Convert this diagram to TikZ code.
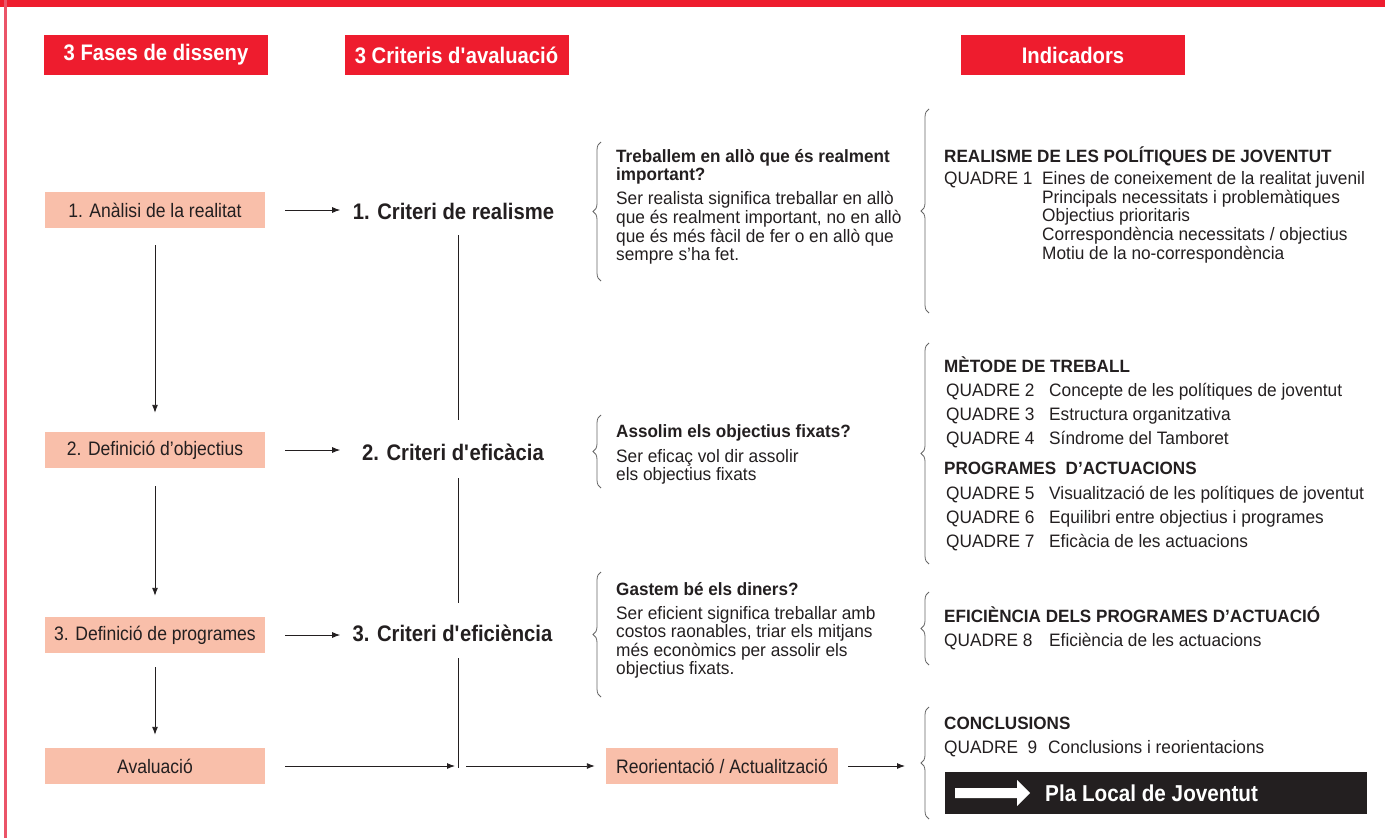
\documentclass[tikz,border=0pt]{standalone}
\usepackage{fontspec}
\setmainfont{Liberation Sans}[FakeStretch=0.96]
\newfontfamily\condf{Liberation Sans}[FakeStretch=0.9]
\usetikzlibrary{decorations.pathreplacing,arrows.meta,calc}
\definecolor{hdred}{HTML}{EE1C2E}
\definecolor{salmon}{HTML}{F9BFAA}
\definecolor{framered}{HTML}{EB5468}
\definecolor{ink}{HTML}{231F20}
\definecolor{bracegray}{HTML}{666666}
\begin{document}
\begin{tikzpicture}[x=1pt,y=-1pt,
  hdr/.style={fill=hdred,text=white,minimum width=224pt,minimum height=40pt,inner sep=0pt,font=\condf\bfseries\fontsize{22.5}{26}\selectfont},
  phase/.style={fill=salmon,text=ink,minimum width=220pt,minimum height=36pt,inner sep=0pt,font=\condf\fontsize{19.5}{22}\selectfont},
  crit/.style={anchor=base,inner sep=0pt,text=ink,font=\condf\bfseries\fontsize{22.5}{26}\selectfont},
  body/.style={anchor=base west,inner sep=0pt,text=ink,font=\fontsize{18}{20}\selectfont},
  bhead/.style={anchor=base west,inner sep=0pt,text=ink,font=\bfseries\fontsize{17.8}{20}\selectfont},
  arr/.style={draw=ink,line width=0.9pt,-{Latex[length=8pt,width=6pt]}},
  plain/.style={draw=ink,line width=0.9pt},
  lbrace/.style={draw=bracegray,line width=0.8pt,decorate,decoration={brace,amplitude=8pt,aspect=0.5}}
]
\useasboundingbox (0,0) rectangle (1385,838);
% frame
\fill[hdred] (0,0) rectangle (1385,7);
\fill[framered] (4,0) rectangle (6.5,838);

% headers
\node[hdr] (h1) at (156,55) {3 Fases de disseny};
\node[hdr] (h2) at (456.5,55) {3 Criteris d\textquotesingle avaluació};
\node[hdr] (h3) at (1073,55) {Indicadors};

% phases
\node[phase] (b1) at (155,210) {1. Anàlisi de la realitat};
\node[phase] (b2) at (155,450) {2. Definició d’objectius};
\node[phase] (b3) at (155,635) {3. Definició de programes};
\node[phase] (b4) at (155,766) {Avaluació};
\node[phase,minimum width=232pt] (reo) at (722,766) {Reorientació / Actualització};

% criteria
\node[crit] (c1) at (453.5,219) {1. Criteri de realisme};
\node[crit] (c2) at (453,460) {2. Criteri d\textquotesingle eficàcia};
\node[crit] (c3) at (452.5,641) {3. Criteri d\textquotesingle eficiència};

% horizontal arrows
\draw[arr,shorten <=20pt] (b1.east) -- ++(75,0);
\draw[arr,shorten <=20pt] (b2.east) -- ++(75,0);
\draw[arr,shorten <=20pt] (b3.east) -- ++(75,0);
% vertical arrows
\draw[arr,shorten <=17pt,shorten >=19pt] (b1.south) -- (b2.north);
\draw[arr,shorten <=18pt,shorten >=21pt] (b2.south) -- (b3.north);
\draw[arr,shorten <=14pt,shorten >=13pt] (b3.south) -- (b4.north);

% centre line
\coordinate (v1a) at (458,235);
\coordinate (v1b) at (458,420);
\coordinate (v2a) at (458,478);
\coordinate (v2b) at (458,603);
\coordinate (v3a) at (458,658);
\coordinate (jn) at (458,768);
\draw[plain] (v1a) -- (v1b);
\draw[plain] (v2a) -- (v2b);
\draw[plain] (v3a) -- (jn);
\draw[arr,shorten <=20pt,shorten >=3pt] (b4.east) -- (b4.east -| jn);
\draw[arr,shorten <=8pt,shorten >=11pt] (b4.east -| jn) -- (reo.west);
\coordinate (br7tip) at (915,766);
\draw[arr,shorten <=10pt,shorten >=10pt] (reo.east) -- (br7tip);

% braces (middle column)
\draw[lbrace] (601,281) -- (601,142);
\draw[lbrace] (601,488) -- (601,415);
\draw[lbrace] (601,697) -- (601,572);
% braces (right column)
\draw[lbrace] (929,313) -- (929,109);
\draw[lbrace] (929,564) -- (929,343);
\draw[lbrace] (929,665) -- (929,592);
\draw[lbrace] (929,819) -- (929,707);

% paragraph 1
\node[bhead] (p1a) at (616,162) {Treballem en allò que és realment};
\node[bhead] (p1b) at (616,180.5) {important?};
\node[body] (p1c) at (616,204) {Ser realista significa treballar en allò};
\node[body] (p1d) at (616,223) {que és realment important, no en allò};
\node[body] (p1e) at (616,242) {que és més fàcil de fer o en allò que};
\node[body] (p1f) at (616,260) {sempre s’ha fet.};
% paragraph 2
\node[bhead] (p2a) at (616,437) {Assolim els objectius fixats?};
\node[body] (p2b) at (616,462) {Ser eficaç vol dir assolir};
\node[body] (p2c) at (616,480) {els objectius fixats};
% paragraph 3
\node[bhead] (p3a) at (616,595) {Gastem bé els diners?};
\node[body] (p3b) at (616,619) {Ser eficient significa treballar amb};
\node[body] (p3c) at (616,637) {costos raonables, triar els mitjans};
\node[body] (p3d) at (616,656) {més econòmics per assolir els};
\node[body] (p3e) at (616,674) {objectius fixats.};

% indicators 1
\node[bhead] (r1) at (944,162) {REALISME DE LES POLÍTIQUES DE JOVENTUT};
\node[body] (q1) at (944,184) {QUADRE 1};
\node[body] (q1a) at (1042,184) {Eines de coneixement de la realitat juvenil};
\node[body] (q1b) at (1042,203) {Principals necessitats i problemàtiques};
\node[body] (q1c) at (1042,221) {Objectius prioritaris};
\node[body] (q1d) at (1042,240) {Correspondència necessitats / objectius};
\node[body] (q1e) at (1042,259) {Motiu de la no-correspondència};

% indicators 2
\node[bhead] (r2) at (944,372) {MÈTODE DE TREBALL};
\node[body] (q2) at (946,396) {QUADRE 2};
\node[body] (q2a) at (1049,396) {Concepte de les polítiques de joventut};
\node[body] (q3) at (946,420) {QUADRE 3};
\node[body] (q3a) at (1049,420) {Estructura organitzativa};
\node[body] (q4) at (946,444) {QUADRE 4};
\node[body] (q4a) at (1049,444) {Síndrome del Tamboret};
\node[bhead] (r3) at (944,474) {PROGRAMES\ \ D’ACTUACIONS};
\node[body] (q5) at (946,499) {QUADRE 5};
\node[body] (q5a) at (1049,499) {Visualització de les polítiques de joventut};
\node[body] (q6) at (946,523) {QUADRE 6};
\node[body] (q6a) at (1049,523) {Equilibri entre objectius i programes};
\node[body] (q7) at (946,547) {QUADRE 7};
\node[body] (q7a) at (1049,547) {Eficàcia de les actuacions};

% indicators 3
\node[bhead] (r4) at (944,622) {EFICIÈNCIA DELS PROGRAMES D’ACTUACIÓ};
\node[body] (q8) at (944,646) {QUADRE 8};
\node[body] (q8a) at (1049,646) {Eficiència de les actuacions};

% conclusions
\node[bhead] (r5) at (944,729) {CONCLUSIONS};
\node[body] (q9) at (944,753) {QUADRE\ \ 9};
\node[body] (q9a) at (1048,753) {Conclusions i reorientacions};

% Pla Local box
\node[fill=ink,minimum width=422pt,minimum height=42pt,inner sep=0pt] (plabox) at (1156,793) {};
\fill[white] (955,788) -- (1017,788) -- (1017,780) -- (1030,793) -- (1017,806) -- (1017,798) -- (955,798) -- cycle;
\node[anchor=base west,inner sep=0pt,text=white,font=\condf\bfseries\fontsize{23}{26}\selectfont] (platext) at (1045,801) {Pla Local de Joventut};
\end{tikzpicture}
\end{document}
